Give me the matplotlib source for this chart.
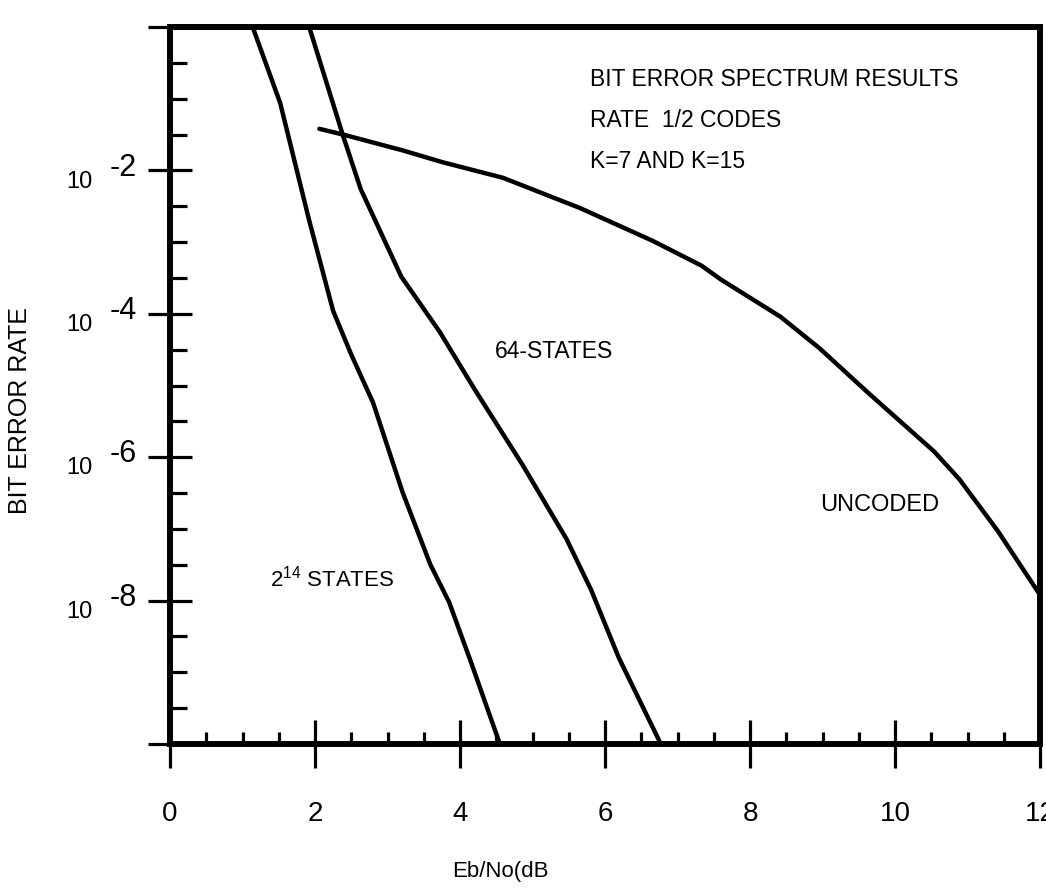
import matplotlib
matplotlib.use("Agg")
import matplotlib.pyplot as plt
import matplotlib.transforms as mtransforms
from matplotlib.ticker import FixedLocator, NullFormatter

plt.rcParams['font.family'] = ['Liberation Sans', 'DejaVu Sans']
plt.rcParams['mathtext.fontset'] = 'custom'
plt.rcParams['mathtext.rm'] = 'Liberation Sans'
plt.rcParams['mathtext.it'] = 'Liberation Sans:italic'
plt.rcParams['mathtext.bf'] = 'Liberation Sans:bold'

# ---- data ----
ebno_2_14 = [1.14, 1.52, 1.92, 2.25, 2.50, 2.80, 3.21, 3.59, 3.85, 4.15, 4.55]
ber_2_14 = [1.0, 8.7e-2, 2.0e-3, 1.1e-4, 2.7e-5, 5.8e-6, 3.2e-7, 3.2e-8, 9.5e-9, 1.4e-9, 1.0e-10]

ebno_64 = [1.92, 2.38, 2.63, 3.19, 3.72, 4.20, 4.86, 5.47, 5.81, 6.19, 6.77]
ber_64 = [1.0, 3.2e-2, 5.5e-3, 3.3e-4, 5.6e-5, 8.9e-6, 7.9e-7, 7.2e-8, 1.4e-8, 1.6e-9, 1.0e-10]

ebno_unc = [2.06, 2.42, 3.21, 3.76, 4.59, 5.65, 6.65, 7.33, 7.60, 8.42, 8.96,
            9.63, 10.54, 10.89, 11.42, 12.0]
ber_unc = [3.8e-2, 3.1e-2, 1.9e-2, 1.3e-2, 7.9e-3, 3.0e-3, 1.05e-3, 4.7e-4,
           3.0e-4, 9.1e-5, 3.3e-5, 7.9e-6, 1.2e-6, 4.9e-7, 9.3e-8, 1.2e-8]

x_major = [0, 2, 4, 6, 8, 10, 12]
x_labels = ['0', '2', '4', '6', '8', '10', '12']
x_minor = [0.5, 1, 1.5, 2.5, 3, 3.5, 4.5, 5, 5.5, 6.5, 7, 7.5, 8.5, 9, 9.5,
           10.5, 11, 11.5]
y_major_exp = [0, -2, -4, -6, -8, -10]
y_label_exp = [-2, -4, -6, -8]
y_minor_exp = [-0.5, -1, -1.5, -2.5, -3, -3.5, -4.5, -5, -5.5, -6.5, -7, -7.5,
               -8.5, -9, -9.5]

# ---- figure ----
W, H = 1046, 894
fig = plt.figure(figsize=(W / 100, H / 100), dpi=100)
ax = fig.add_axes([170 / W, (H - 744) / H, 870 / W, 717 / H])

lw = 3.2
for xs, ys in [(ebno_2_14, ber_2_14), (ebno_64, ber_64), (ebno_unc, ber_unc)]:
    ax.plot(xs, ys, color='black', lw=lw, solid_joinstyle='round',
            solid_capstyle='round')

ax.set_yscale('log')
ax.set_xlim(0, 12)
ax.set_ylim(1e-10, 1)

for sp in ax.spines.values():
    sp.set_linewidth(4.3)

ax.xaxis.set_major_locator(FixedLocator(x_major))
ax.set_xticklabels(x_labels, fontsize=20)
ax.xaxis.set_minor_locator(FixedLocator(x_minor))
ax.tick_params(axis='x', which='major', direction='inout', length=34, width=2.3, pad=24)
ax.tick_params(axis='x', which='minor', direction='in', length=9, width=2.3)

ax.yaxis.set_major_locator(FixedLocator([10.0 ** e for e in y_major_exp]))
ax.yaxis.set_minor_locator(FixedLocator([10.0 ** e for e in y_minor_exp]))
ax.yaxis.set_major_formatter(NullFormatter())
ax.yaxis.set_minor_formatter(NullFormatter())
ax.tick_params(axis='y', which='major', direction='inout', length=32, width=2.3)
ax.tick_params(axis='y', which='minor', direction='in', length=12, width=2.3)
ax.tick_params(top=False, right=False, which='both')

trans = mtransforms.blended_transform_factory(ax.transAxes, ax.transData)
for e in y_label_exp:
    ax.annotate('10', xy=(0, 10.0 ** e), xycoords=trans, xytext=(-56, -8),
                textcoords='offset points', ha='right', va='center', fontsize=17)
    ax.annotate('-%d' % abs(e), xy=(0, 10.0 ** e), xycoords=trans, xytext=(-24, 2),
                textcoords='offset points', ha='right', va='center', fontsize=22)

# annotations
ax.text(5.79, 10 ** -0.73, 'BIT ERROR SPECTRUM RESULTS', fontsize=16.5, va='center')
ax.text(5.79, 10 ** -1.31, 'RATE  1/2 CODES', fontsize=16.5, va='center')
ax.text(5.79, 10 ** -1.87, 'K=7 AND K=15', fontsize=16.5, va='center')
ax.text(4.48, 10 ** -4.53, '64-STATES', fontsize=16.5, va='center')
ax.text(8.97, 10 ** -6.66, 'UNCODED', fontsize=17, va='center')
ax.text(1.38, 10 ** -7.69, r'$\mathregular{2^{14}}$ STATES', fontsize=16, va='center')

fig.text(20 / W, 1 - 410 / H, 'BIT ERROR RATE', rotation=90, fontsize=18,
         ha='center', va='center')
fig.text(500 / W, 1 - 872 / H, 'Eb/No(dB', fontsize=16, ha='center', va='center')

fig.savefig('out.png', dpi=100, facecolor='white')
